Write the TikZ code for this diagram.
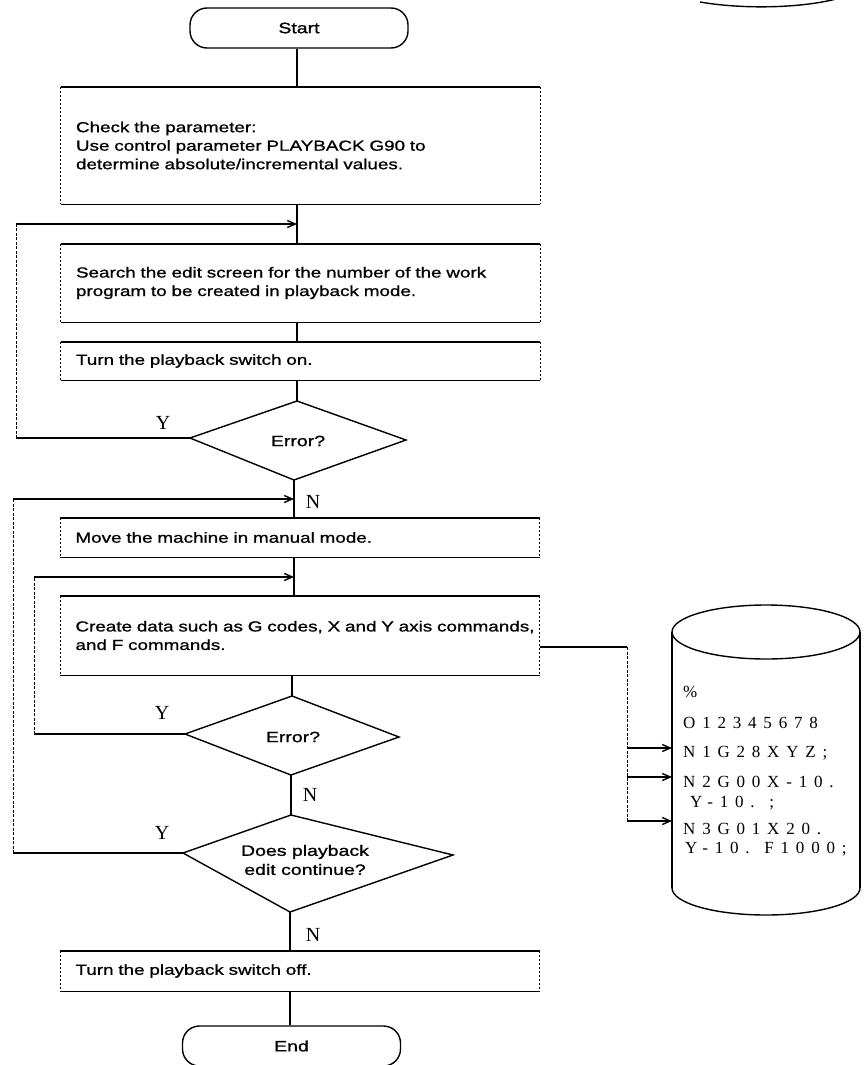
\documentclass[tikz,border=0pt]{standalone}
\usepackage{fontspec}
\setmainfont{Liberation Sans}[FakeStretch=1.3, FakeBold=1]
\newfontfamily\ynfont{Liberation Serif}
\newfontfamily\cylfont[LetterSpace=40]{Liberation Serif}
\usetikzlibrary{arrows.meta}
\tikzset{
  edge/.style={line width=1.4pt},
  side/.style={line width=0.7pt, dash pattern=on 2.5pt off 1.5pt},
  loopv/.style={line width=0.8pt, dash pattern=on 3pt off 1.5pt},
  arr/.style={line width=1.4pt, -{Straight Barb[length=8pt,width=7pt]}},
  term/.style={draw, line width=1.4pt, rounded corners=17pt, minimum width=218pt, minimum height=40pt, inner sep=0pt, font=\fontsize{15}{18}\selectfont},
  pbox/.style={minimum width=479pt, text width=475pt, inner xsep=2pt, inner ysep=0pt, align=left, font=\fontsize{14.5}{18.5}\selectfont},
  dtext/.style={align=center, inner sep=0pt, font=\fontsize{15}{19}\selectfont},
  lab/.style={inner sep=0pt, font=\ynfont\fontsize{20}{20}\selectfont},
  ctext/.style={anchor=west, inner sep=0pt, font=\cylfont\fontsize{17}{17}\selectfont},
}
\newcommand\myind{\hspace*{13pt}}
\newcommand\myflowframe[1]{%
  \draw[edge] (#1.north west) -- (#1.north east);
  \draw[edge] (#1.south west) -- (#1.south east);
  \draw[side] (#1.north west) -- (#1.south west);
  \draw[side] (#1.north east) -- (#1.south east);}
\begin{document}
\begin{tikzpicture}[x=1pt,y=-1pt]
\useasboundingbox (0,0) rectangle (863,1065);
\clip (0,0) rectangle (863,1065);
\fill[white] (0,0) rectangle (863,1065);

% ---- top part
\node[term] (start) at (299,28) {Start};
\node[pbox, minimum height=117pt] (b1) at (300.5,145.5) {\myind Check the parameter:\\\myind Use control parameter PLAYBACK G90 to\\\myind determine absolute/incremental values.};
\myflowframe{b1}
\node[pbox, minimum height=78pt] (b2) at (300.5,283) {\myind Search the edit screen for the number of the work\\\myind program to be created in playback mode.};
\myflowframe{b2}
\node[pbox, minimum height=38pt] (b3) at (300.5,361) {\myind Turn the playback switch on.};
\myflowframe{b3}

\coordinate (d1t) at (297,401); \coordinate (d1l) at (190,438);
\coordinate (d1r) at (406,440); \coordinate (d1b) at (294,480);
\draw[edge, line join=miter] (d1t) -- (d1r) -- (d1b) -- (d1l) -- cycle;
\node[dtext] (d1) at (298,441) {Error?};

\draw[edge] (start.south -| d1t) -- (b1.north -| d1t);
\draw[edge] (b1.south -| d1t) -- (b2.north -| d1t);
\draw[edge] (b2.south -| d1t) -- (b3.north -| d1t);
\draw[edge] (b3.south -| d1t) -- (d1t);

\coordinate (j1) at (297,224);
\coordinate (c1a) at (16,438); \coordinate (c1b) at (16,224);
\draw[edge] (d1l) -- (c1a);
\draw[loopv] (c1a) -- (c1b);
\draw[arr] (c1b) -- (j1);
\node[lab] (y1) at (163,423) {Y};

% ---- middle part
\node[pbox, minimum height=39pt] (b4) at (300,537.5) {\myind Move the machine in manual mode.};
\myflowframe{b4}
\node[pbox, minimum height=79pt] (b5) at (300,635.5) {\myind\mbox{Create data such as G codes, X and Y axis commands,}\\\myind and F commands.};
\myflowframe{b5}

\coordinate (j2) at (294,499);
\coordinate (j3) at (294,577);
\draw[edge] (d1b) -- (d1b |- b4.north);
\draw[edge] (b4.south -| d1b) -- (b5.north -| d1b);
\node[lab] (n1) at (313,502) {N};

\coordinate (d2t) at (292,696); \coordinate (d2l) at (185,734);
\coordinate (d2r) at (399,737); \coordinate (d2b) at (291,775);
\draw[edge, line join=miter] (d2t) -- (d2r) -- (d2b) -- (d2l) -- cycle;
\node[dtext] (d2) at (293,737) {Error?};
\draw[edge] (b5.south -| d2t) -- (d2t);

\coordinate (c2a) at (34,734); \coordinate (c2b) at (34,577);
\draw[edge] (d2l) -- (c2a);
\draw[loopv] (c2a) -- (c2b);
\draw[arr] (c2b) -- (j3);
\node[lab] (y2) at (162,713) {Y};
\node[lab] (n2) at (310,795) {N};

\coordinate (d3t) at (291,815); \coordinate (d3l) at (183,853);
\coordinate (d3r) at (453,855); \coordinate (d3b) at (290,912);
\draw[edge, line join=miter] (d3t) -- (d3r) -- (d3b) -- (d3l) -- cycle;
\node[dtext] (d3) at (305,860) {Does playback\\edit continue?};
\draw[edge] (d2b) -- (d3t);

\coordinate (c3a) at (13,853); \coordinate (c3b) at (13,499);
\draw[edge] (d3l) -- (c3a);
\draw[loopv] (c3a) -- (c3b);
\draw[arr] (c3b) -- (j2);
\node[lab] (y3) at (162,833) {Y};
\node[lab] (n3) at (313,935) {N};

% ---- bottom part
\node[pbox, minimum height=40pt] (b6) at (300,971) {\myind Turn the playback switch off.};
\myflowframe{b6}
\node[term] (end) at (291.5,1046) {End};
\draw[edge] (d3b) -- (d3b |- b6.north);
\draw[edge] (b6.south -| d3b) -- (end.north -| d3b);

% ---- cylinder (program memory)
\draw[edge] (766,632) ellipse [x radius=94pt, y radius=27pt];
\draw[edge] (672,632) -- (672,888);
\draw[edge] (860,632) -- (860,888);
\draw[edge] (672,888) arc[start angle=180, end angle=360, x radius=94pt, y radius=27pt];
\node[ctext] (p0) at (683,692) {\%};
\node[ctext] (p1) at (683,723) {O12345678};
\node[ctext] (p2) at (683,753) {N1G28XYZ;};
\node[ctext] (p3) at (683,782) {N2G00X-10.};
\node[ctext] (p4) at (690,803) {Y-10. ;};
\node[ctext] (p5) at (683,829) {N3G01X20.};
\node[ctext] (p6) at (685,849) {Y-10. F1000;};

\coordinate (o1) at (540,647);
\coordinate (v1) at (627,647); \coordinate (v2) at (627,748);
\coordinate (v3) at (627,777); \coordinate (v4) at (627,821);
\coordinate (t1) at (672,748); \coordinate (t2) at (672,777); \coordinate (t3) at (672,821);
\draw[edge] (o1) -- (v1);
\draw[loopv] (v1) -- (v4);
\draw[arr] (v2) -- (t1);
\draw[arr] (v3) -- (t2);
\draw[arr] (v4) -- (t3);

% ---- arc of a symbol cut at the top edge
\draw[edge] (700,2) .. controls (740,9) and (800,9) .. (840,-2);
\end{tikzpicture}
\end{document}
